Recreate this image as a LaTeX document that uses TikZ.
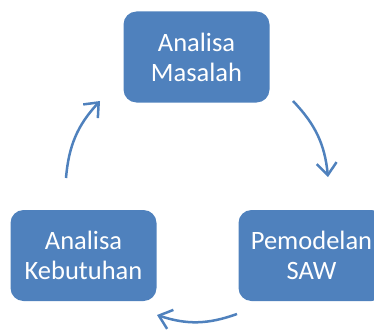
\documentclass[tikz,border=0pt]{standalone}
\usepackage{fontspec}
\setmainfont{Carlito}
\usetikzlibrary{arrows.meta}
\definecolor{sawblue}{HTML}{4F81BD}
\begin{document}
\begin{tikzpicture}[x=1pt,y=1pt,
  stage/.style={fill=sawblue,rounded corners=13pt,minimum width=146pt,minimum height=91pt,
    inner sep=0pt,text=white,align=center,font=\fontsize{26.5}{30}\selectfont},
  flow/.style={sawblue,line width=2.5pt,-{Straight Barb[length=12pt,width=20pt]},bend left=19}]
  \clip (0,0) rectangle (374,-329);
  \node[stage] (masalah) at (196.5,-57) {Analisa\\Masalah};
  \node[stage] (saw) at (311.5,-255.5) {Pemodelan\\SAW};
  \node[stage] (kebutuhan) at (83.5,-255.5) {Analisa\\Kebutuhan};
  \coordinate (ms) at (293,-101);
  \coordinate (me) at (328,-177);
  \coordinate (ss) at (237,-314);
  \coordinate (se) at (157,-315);
  \coordinate (ks) at (66,-178);
  \coordinate (ke) at (100,-101);
  \draw[flow] (ms) to (me);
  \draw[flow] (ss) to (se);
  \draw[flow] (ks) to (ke);
\end{tikzpicture}
\end{document}
